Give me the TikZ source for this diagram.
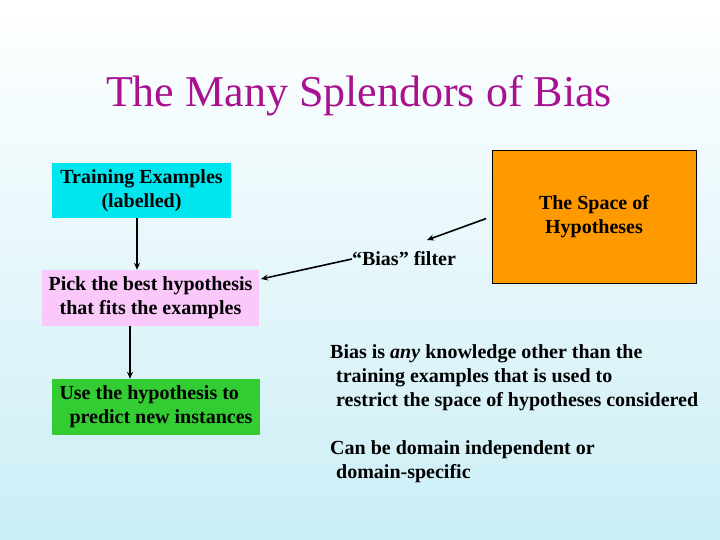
\documentclass[tikz,border=0pt]{standalone}
\usepackage{fontspec}
\setmainfont{Liberation Serif}
\usetikzlibrary{arrows.meta}
\definecolor{titlepurple}{RGB}{168,17,143}
\definecolor{bgblue}{RGB}{203,238,246}
\definecolor{boxcyan}{RGB}{0,230,238}
\definecolor{boxpink}{RGB}{250,200,250}
\definecolor{boxgreen}{RGB}{51,204,51}
\definecolor{boxorange}{RGB}{255,153,0}
\tikzset{
  box/.style={inner sep=0pt, font=\bfseries\fontsize{20}{24}\selectfont},
  txt/.style={inner sep=0pt, align=left, anchor=north west, font=\bfseries\fontsize{20}{24}\selectfont},
  arr/.style={line width=1.6pt, -{Stealth[length=7pt,width=6pt]}}
}
\begin{document}
\begin{tikzpicture}[x=1pt,y=-1pt]
\shade[top color=white, bottom color=bgblue] (0,0) rectangle (720,540);
\useasboundingbox (0,0) rectangle (720,540);
\node[titlepurple, inner sep=0pt, font=\fontsize{44}{52}\selectfont] (title) at (359,96) {The Many Splendors of Bias};
\node[box, fill=boxcyan, minimum width=179pt, minimum height=55pt, align=center] (train) at (141.5,190.5) {Training Examples\\(labelled)};
\node[box, fill=boxpink, minimum width=217pt, minimum height=56pt, align=center] (pick) at (150.5,298) {Pick the best hypothesis\\that fits the examples};
\node[box, fill=boxgreen, minimum width=208pt, minimum height=56pt, align=left] (use) at (156,407) {Use the hypothesis to\\\hspace*{0.5em}predict new instances};
\node[box, draw, fill=boxorange, minimum width=204pt, minimum height=133pt, align=center] (space) at (594,216.5) {The Space of\\Hypotheses};
\node[box] (filter) at (404,259) {``Bias'' filter};
\coordinate (fin) at (427,240);
\coordinate (pin) at (261,279);
\draw[arr] (train.south -| 137,0) -- (pick.north -| 137,0);
\draw[arr] (pick.south -| 130,0) -- (use.north -| 130,0);
\draw[arr, shorten <=6pt] (space.west) -- (fin);
\draw[arr] (filter.west) -- (pin);
\node[txt] (bias) at (330,344) {Bias is \textit{any} knowledge other than the\\
\hspace*{0.3em}training examples that is used to\\
\hspace*{0.3em}restrict the space of hypotheses considered};
\node[txt] (domain) at (330,440) {Can be domain independent or\\
\hspace*{0.3em}domain-specific};
\end{tikzpicture}
\end{document}
